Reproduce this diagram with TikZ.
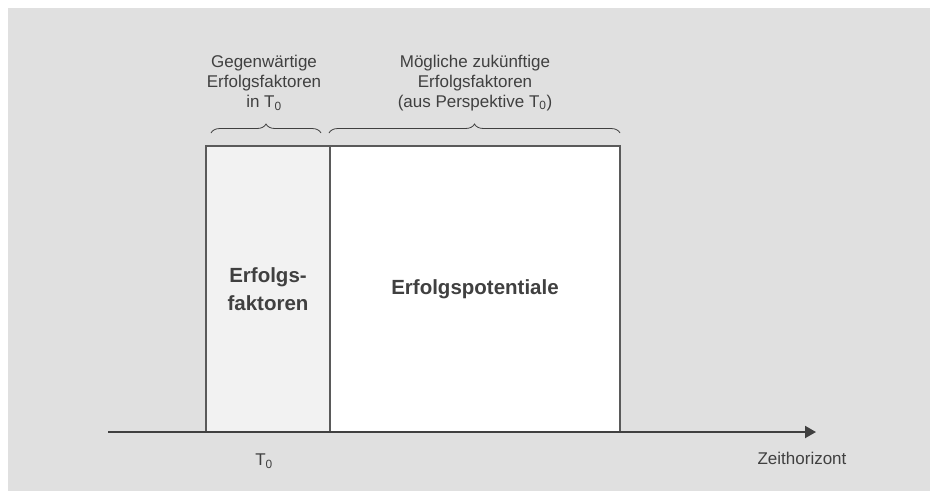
\documentclass[tikz,border=0pt]{standalone}
\usepackage{fontspec}
\setmainfont{Liberation Sans}
\usetikzlibrary{positioning,decorations.pathreplacing,arrows.meta}
\definecolor{bggray}{HTML}{E0E0E0}
\definecolor{boxline}{HTML}{5A5A5A}
\definecolor{txtgray}{HTML}{404040}
\definecolor{lightfill}{HTML}{F2F2F2}

\begin{document}
\begin{tikzpicture}[x=1pt,y=-1pt,
  box/.style={draw=boxline,line width=1.4pt,outer sep=0pt,inner sep=0pt,minimum height=286pt,font=\fontsize{20.5}{28}\selectfont\bfseries,text=txtgray,align=center},
  caption/.style={font=\fontsize{17}{20}\selectfont,text=txtgray,align=center},
  curly/.style={decorate,decoration={brace,amplitude=9pt},draw=txtgray,line width=0.8pt}]
% Background
\useasboundingbox (0,0) rectangle (930,491);
\fill[bggray] (8,8) rectangle (930,491);

% Boxes
\node[box,fill=lightfill,minimum width=124pt] (faktoren) at (268,289) {Erfolgs-\\faktoren};
\node[box,fill=white,minimum width=290pt,right=0pt of faktoren] (potentiale) {Erfolgspotentiale};

% Time axis
\coordinate (start) at (108,432);
\coordinate (end) at (816,432);
\draw[line width=2pt,draw=txtgray,-{Triangle[length=11pt,width=12pt]}] (start) -- (end);
\node[caption] (tnull) at (264,461) {T\textsubscript{0}};
\node[caption] (zeit) at (802,458) {Zeithorizont};

% Braces
\draw[curly] ([xshift=5pt,yshift=13pt]faktoren.north west) -- ([xshift=-9pt,yshift=13pt]faktoren.north east);
\draw[curly] ([xshift=-1pt,yshift=13pt]potentiale.north west) -- ([xshift=0pt,yshift=13pt]potentiale.north east);

% Captions
\node[caption] (gegenwart) at (264,83) {Gegenwärtige\\Erfolgsfaktoren\\in T\textsubscript{0}};
\node[caption] (zukunft) at (475,83) {Mögliche zukünftige\\Erfolgsfaktoren\\(aus Perspektive T\textsubscript{0})};
\end{tikzpicture}
\end{document}
